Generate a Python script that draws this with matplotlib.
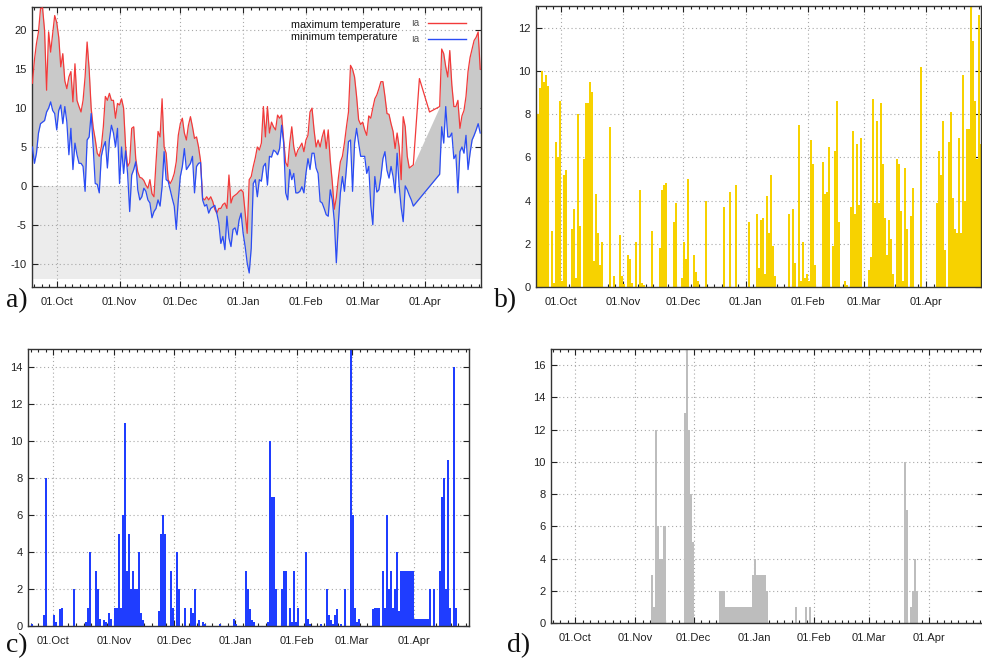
import numpy as np
import pandas as pd
import matplotlib
matplotlib.use('Agg')
import matplotlib.pyplot as plt
import matplotlib.dates as mdates
import matplotlib.ticker as ticker

plt.rcParams['font.family'] = ['Liberation Sans', 'DejaVu Sans']
plt.rcParams['axes.unicode_minus'] = False

nan = np.nan

# daily series, 19 Sep - 28 Apr
days = pd.date_range('2012-09-19', '2013-04-28', freq='D')

# maximum temperature
tmax_sep = [13.2, 16.2, 18.3, 19.8, 22.8, 22.9, 20.0, 12.3, 19.8, 17.2, 19.5, 21.9]
tmax_oct = [21.0, 19.1, 15.3, 17.0, 13.5, 12.5, 14.0, 14.7, 10.8, 15.7, 11.0, 10.2, 9.5, 11.0, 14.0, 18.5,
            15.0, 10.0, 7.5, 6.0, 4.2, 3.8, 5.0, 7.6, 11.5, 11.0, 11.9, 11.0, 11.0, 8.7, 10.6]
tmax_nov = [10.4, 11.2, 10.0, 5.0, 2.5, 3.0, 7.4, 7.6, 3.5, 1.8, 1.1, 1.0, 0.7, 0.1, -0.3, 0.8,
            -1.0, -1.4, 3.0, 7.0, 6.3, 11.2, 5.0, 4.2, 0.8, 0.3, 0.8, 1.6, 3.1, 6.5]
tmax_dec = [8.0, 8.7, 6.8, 5.9, 7.8, 8.9, 7.6, 6.1, 6.3, 5.0, 3.2, -1.6, -1.8, -1.4, -1.8, -1.4,
            -2.0, -3.0, -3.5, -2.9, -2.9, -2.4, -2.2, -2.9, 1.4, -2.2, -1.4, -1.2, -1.0, -0.7, -0.5]
tmax_jan = [-0.8, -3.5, -6.1, 0.8, 1.2, 2.5, 3.6, 5.0, 4.6, 5.5, 10.2, 6.3, 10.2, 6.8, 8.2, 7.6,
            7.2, 9.1, 8.7, 9.1, 5.9, 3.0, 2.5, 5.5, 7.6, 5.0, 3.8, 4.6, 5.0, 5.5, 4.4]
tmax_feb = [5.9, 6.5, 9.5, 10.0, 7.2, 5.0, 5.9, 5.0, 6.3, 7.2, 4.8, 7.2, 3.3, 0.5, -3.0, -1.5,
            1.0, 3.1, 3.8, 5.5, 7.6, 9.5, 15.5, 15.0, 14.0, 11.5, 8.5, 7.9]
tmax_mar = [8.2, 7.2, 6.5, 9.0, 8.7, 10.0, 11.2, 11.7, 12.5, 13.4, 13.4, 11.5, 9.3, 9.2, 8.0, 7.0,
            4.8, 6.8, 5.0, 0.8, 8.9, 7.6, 3.8, 2.3, 2.5, 2.7, nan, nan, 13.8, nan, nan]
tmax_apr = [nan, nan, 9.5, nan, nan, nan, nan, 10.2, 17.6, 17.0, 15.3, 14.0, 17.4, 13.0, 10.2, 10.2,
            11.0, 7.4, 9.0, 9.7, 11.5, 14.7, 16.5, 17.6, 18.7, 19.1, 19.8, 15.0]

# minimum temperature
tmin_sep = [5.0, 2.9, 4.2, 6.8, 8.0, 8.2, 8.4, 9.5, 10.0, 10.8, 9.7, 9.3]
tmin_oct = [7.2, 9.7, 10.4, 8.0, 10.2, 8.2, 4.0, 7.4, 2.1, 5.5, 4.0, 2.9, 2.9, 2.5, -0.7, 5.9,
            6.3, 9.3, 5.0, 0.3, 0.2, -0.9, 3.8, 5.0, 5.7, 2.3, 5.9, 7.8, 6.8, 5.0, 7.4]
tmin_nov = [0.3, 5.0, 1.6, 4.5, 1.5, -3.3, 1.4, 2.1, 3.1, -0.5, -1.8, -1.4, -0.3, -0.7, -1.8, -2.2,
            -4.1, -3.3, -2.9, -1.8, -2.6, -0.1, 4.4, 0.8, 0.6, -0.5, -1.6, -2.6, -5.6, -1.8]
tmin_dec = [1.2, 2.5, 4.8, 2.1, 2.5, 2.9, 3.8, -0.9, 2.5, 2.9, 3.0, -1.8, -2.6, -2.4, -3.5, -2.9,
            -2.7, -2.5, -3.5, -4.8, -7.4, -6.5, -8.2, -3.9, -6.7, -7.8, -5.6, -5.4, -6.3, -4.4, -3.5]
tmin_jan = [-6.1, -7.8, -9.9, -11.2, -8.0, 0.3, 0.8, -1.4, 0.8, 0.6, 2.5, 2.9, 0.1, 3.8, 3.7, 4.6,
            4.4, 4.0, 4.8, 7.8, 5.5, -0.9, -1.8, 2.1, 0.8, 1.6, -0.9, -0.9, -0.7, -0.1, -0.9]
tmin_feb = [1.6, 3.5, 2.1, 4.2, 4.2, 2.3, 1.6, -2.0, -2.2, -2.9, -3.7, -3.9, -0.5, -1.8, -4.5, -9.9,
            -4.8, -0.9, 1.2, -0.7, 2.3, 5.7, 5.9, -0.7, 5.5, 7.4, 5.5, 3.8]
tmin_mar = [3.8, 3.8, 1.6, 2.5, -2.5, -5.0, 1.2, -0.8, -0.5, 1.2, 3.5, 4.4, 2.0, 1.0, 2.5, 1.2,
            -0.9, 4.2, 0.0, -2.8, -4.6, 0.0, -0.5, -1.2, -1.8, -2.6, nan, nan, nan, nan, nan]
tmin_apr = [nan, nan, nan, nan, nan, nan, nan, 1.5, 7.6, 5.5, 10.2, 6.3, 6.3, 6.8, 3.5, 4.0,
            -0.9, 4.4, 5.0, 4.2, 6.5, 2.1, 4.2, 5.9, 6.5, 7.2, 8.0, 6.8]

# panel b (yellow bars)
sun_sep = [8.0, 9.2, 10.0, 9.5, 9.8, 9.3, 0.0, 2.6, 0.2, 6.7, 6.0, 8.6]
sun_oct = [0.3, 5.2, 5.4, 0.0, 0.0, 2.7, 3.6, 0.4, 8.0, 2.8, 0.0, 5.9, 8.5, 8.5, 9.5, 9.0,
           1.2, 4.3, 2.5, 1.0, 2.1, 0.0, 0.0, 0.0, 7.4, 0.0, 0.5, 0.0, 0.0, 2.4, 0.5]
sun_nov = [0.15, 0.0, 1.5, 1.3, 0.2, 0.0, 2.1, 0.0, 4.5, 0.2, 0.1, 0.0, 0.0, 0.0, 2.6, 0.0,
           0.0, 0.0, 1.8, 4.5, 4.7, 4.8, 0.0, 0.0, 0.0, 3.0, 3.9, 0.0, 0.0, 0.4]
sun_dec = [2.1, 1.3, 5.0, 0.0, 0.0, 1.5, 0.7, 0.3, 0.0, 0.0, 0.0, 4.0, 0.0, 0.0, 0.0, 0.0,
           0.0, 0.0, 0.0, 0.0, 3.7, 0.0, 0.0, 4.4, 0.0, 0.0, 4.7, 0.0, 0.0, 0.0, 0.0]
sun_jan = [0.0, 3.0, 0.0, 0.0, 0.0, 3.4, 0.9, 3.1, 3.2, 0.6, 4.2, 2.5, 5.2, 1.9, 0.5, 0.0,
           0.0, 0.0, 0.0, 0.0, 0.0, 3.4, 0.0, 3.6, 1.1, 0.0, 7.5, 0.3, 2.1, 0.4, 0.6]
sun_feb = [0.3, 6.8, 5.7, 1.0, 0.0, 0.0, 0.0, 5.8, 4.3, 4.4, 6.5, 0.0, 1.9, 6.3, 8.6, 3.0,
           0.0, 0.0, 0.3, 0.1, 0.0, 3.7, 7.2, 3.4, 6.6, 3.8, 6.9, 0.0]
sun_mar = [0.0, 0.0, 0.8, 1.4, 8.7, 3.9, 7.7, 3.9, 8.5, 5.7, 3.2, 1.5, 3.1, 2.2, 0.6, 0.0,
           5.9, 5.7, 3.5, 0.3, 5.5, 2.7, 0.0, 3.3, 4.6, 0.0, 0.0, 0.0, 10.2, 0.0, 0.0]
sun_apr = [0.0, 0.0, 0.0, 0.0, 0.0, 3.9, 6.3, 5.2, 7.7, 1.7, 0.0, 6.7, 8.1, 4.1, 2.7, 2.5,
           6.9, 2.5, 9.8, 4.0, 7.3, 7.3, 13.0, 11.4, 8.6, 5.9, 12.6, 6.6]

# panel c (blue bars)
rain_sep = [0.0, 0.1, 0.0, 0.0, 0.0, 0.0, 0.0, 0.6, 8.0, 0.0, 0.0, 0.0]
rain_oct = [0.6, 0.2, 0.0, 0.9, 1.0, 0.0, 0.0, 0.0, 0.0, 0.0, 2.0, 0.0, 0.0, 0.0, 0.0, 0.0,
            0.2, 1.0, 4.0, 0.0, 0.0, 3.0, 2.0, 0.4, 0.0, 0.3, 0.2, 0.0, 0.7, 0.4, 0.0]
rain_nov = [1.0, 1.0, 5.0, 1.0, 6.0, 11.0, 3.0, 5.0, 2.0, 3.0, 2.0, 2.0, 4.0, 0.7, 0.3, 0.0,
            0.0, 0.0, 0.0, 0.0, 0.0, 0.0, 0.8, 5.0, 6.0, 5.0, 0.0, 0.0, 3.0, 1.0]
rain_dec = [0.0, 4.0, 2.0, 0.0, 0.0, 1.0, 0.0, 0.0, 1.0, 0.7, 2.0, 0.0, 0.3, 0.0, 0.2, 0.1,
            0.0, 0.0, 0.0, 0.0, 0.0, 0.0, 0.0, 0.1, 0.0, 0.0, 0.0, 0.0, 0.0, 0.0, 0.4]
rain_jan = [0.1, 0.0, 0.0, 0.0, 0.0, 3.0, 2.0, 0.9, 0.3, 0.2, 0.0, 0.0, 0.0, 0.0, 0.0, 0.0,
            0.2, 10.0, 7.0, 7.0, 2.0, 0.0, 0.0, 2.0, 3.0, 3.0, 0.0, 1.0, 0.2, 3.0, 0.2]
rain_feb = [1.0, 0.0, 0.0, 0.0, 4.0, 0.4, 0.1, 0.0, 0.0, 0.0, 0.0, 0.0, 0.1, 0.0, 0.0, 2.0,
            0.6, 0.3, 0.1, 0.6, 0.9, 0.0, 0.1, 0.0, 2.0, 0.0, 0.0, 15.0]
rain_mar = [6.0, 1.0, 0.2, 0.4, 0.0, 0.0, 0.0, 0.0, 0.0, 0.0, 0.9, 1.0, 1.0, 1.0, 0.0, 3.0,
            1.0, 6.0, 2.0, 3.0, 1.0, 2.0, 4.0, 0.8, 3.0, 3.0, 3.0, 3.0, 3.0, 3.0, 3.0]
rain_apr = [0.4, 0.4, 0.4, 0.4, 0.4, 0.4, 0.4, 0.4, 2.0, 0.0, 2.0, 0.0, 0.0, 3.0, 7.0, 8.0,
            2.0, 9.0, 1.0, 0.0, 14.0, 1.0, 0.0, 0.0, 0.0, 0.0, 0.0, 0.0]

# panel d (gray bars)
snow_sep = [0.0] * 12
snow_oct = [0.0] * 31
snow_nov = [0.0, 0.0, 0.0, 0.0, 0.0, 0.0, 0.0, 0.0, 3.0, 1.0, 12.0, 6.0, 4.0, 4.0, 6.0, 6.0,
            0.0, 0.0, 0.0, 0.0, 0.0, 0.0, 0.0, 0.0, 0.0, 13.0, 17.0, 12.0, 8.0, 5.0]
snow_dec = [0.0, 0.0, 0.0, 0.0, 0.0, 0.0, 0.0, 0.0, 0.0, 0.0, 0.0, 0.0, 0.0, 2.0, 2.0, 2.0,
            1.0, 1.0, 1.0, 1.0, 1.0, 1.0, 1.0, 1.0, 1.0, 1.0, 1.0, 1.0, 1.0, 1.0, 3.0]
snow_jan = [4.0, 3.0, 3.0, 3.0, 3.0, 3.0, 2.0, 0.0, 0.0, 0.0, 0.0, 0.0, 0.0, 0.0, 0.0, 0.0,
            0.0, 0.0, 0.0, 0.0, 0.0, 1.0, 0.0, 0.0, 0.0, 0.0, 1.0, 0.0, 1.0, 0.0, 0.0]
snow_feb = [0.0] * 28
snow_mar = [0.0, 0.0, 0.0, 0.0, 0.0, 0.0, 0.0, 0.0, 0.0, 0.0, 0.0, 0.0, 0.0, 0.0, 0.0, 0.0,
            0.0, 0.0, 10.0, 7.0, 0.0, 1.0, 2.0, 4.0, 2.0, 0.0, 0.0, 0.0, 0.0, 0.0, 0.0]
snow_apr = [0.0] * 28

tmax = np.array(tmax_sep + tmax_oct + tmax_nov + tmax_dec + tmax_jan + tmax_feb + tmax_mar + tmax_apr)
tmin = np.array(tmin_sep + tmin_oct + tmin_nov + tmin_dec + tmin_jan + tmin_feb + tmin_mar + tmin_apr)
sun = np.array(sun_sep + sun_oct + sun_nov + sun_dec + sun_jan + sun_feb + sun_mar + sun_apr)
rain = np.array(rain_sep + rain_oct + rain_nov + rain_dec + rain_jan + rain_feb + rain_mar + rain_apr)
snow = np.array(snow_sep + snow_oct + snow_nov + snow_dec + snow_jan + snow_feb + snow_mar + snow_apr)

legend_labels = ['maximum temperature', 'minimum temperature']

# colours
c_red = '#f23a3a'
c_blue = '#2a4cf5'
c_band = '#c9c9c9'
c_frost = '#ececec'
c_yellow = '#f7d200'
c_barblue = '#1f3dff'
c_gray = '#bdbdbd'
c_grid = '#a8a8a8'

W, H = 982, 660
fig = plt.figure(figsize=(W / 100, H / 100), dpi=100)


def px_axes(l, t, r, b):
    return fig.add_axes([l / W, 1 - b / H, (r - l) / W, (b - t) / H])


# minor ticks: 8 per month, like the gnuplot original
month_starts = pd.date_range('2012-09-01', '2013-05-01', freq='MS')
minor_ticks = []
for m0, m1 in zip(month_starts[:-1], month_starts[1:]):
    minor_ticks += list(pd.date_range(m0, m1, periods=9)[1:-1])
minor_ticks = mdates.date2num(minor_ticks)


def style(ax, d0, d1, ylim, ystep):
    t0 = days[0]
    ax.set_xlim(t0 + pd.Timedelta(days=d0), t0 + pd.Timedelta(days=d1))
    ax.set_ylim(*ylim)
    ax.xaxis.set_major_locator(mdates.MonthLocator(bymonthday=1))
    ax.xaxis.set_major_formatter(mdates.DateFormatter('%d.%b'))
    ax.xaxis.set_minor_locator(ticker.FixedLocator(minor_ticks))
    ax.yaxis.set_major_locator(ticker.MultipleLocator(ystep))
    ax.tick_params(which='both', direction='in', top=True, right=True, colors='#222222',
                   labelsize=8, width=0.8)
    ax.tick_params(which='major', length=4)
    ax.tick_params(which='minor', length=2.2)
    ax.tick_params(axis='x', pad=7)
    ax.tick_params(axis='y', pad=4)
    ax.grid(True, which='major', color=c_grid, linestyle=(0, (1, 2.5)), linewidth=0.8)
    ax.set_axisbelow(True)
    for s in ax.spines.values():
        s.set_color('#333333')
        s.set_linewidth(1.0)


# a) temperatures
ax = px_axes(32, 7, 481, 287)
ax.axhspan(-12, 0, color=c_frost, lw=0, zorder=0.5)
both = ~np.isnan(tmax) & ~np.isnan(tmin)
ax.fill_between(days[both], tmin[both], tmax[both], color=c_band, lw=0, zorder=1)
ok_max = ~np.isnan(tmax)
ok_min = ~np.isnan(tmin)
ax.plot(days[ok_max], tmax[ok_max], color=c_red, lw=0.9, zorder=3)
ax.plot(days[ok_min], tmin[ok_min], color=c_blue, lw=0.9, zorder=3)
style(ax, -0.2, 221.4, (-13, 23), 5)

# key, drawn like gnuplot: left-justified text, sample line on the right
for lbl, col, ty, ly in [(legend_labels[0], c_red, 0.936, 0.942),
                         (legend_labels[1], c_blue, 0.892, 0.885)]:
    ax.text(0.576, ty, lbl, transform=ax.transAxes, fontsize=7.8, va='center', ha='left',
            color='#111111')
    ax.text(0.845, ly, 'ıa', transform=ax.transAxes, fontsize=7, color='#555555', va='center')
    ax.plot([0.881, 0.967], [ly, ly], transform=ax.transAxes, color=col, lw=1.0, zorder=4)

# b) yellow bars
ax = px_axes(536, 6, 981, 287)
ax.bar(days, sun, width=1.0, align='edge', color=c_yellow, lw=0, zorder=2)
style(ax, -0.46, 221.4, (0, 13), 2)

# c) blue bars
ax = px_axes(28, 349, 469, 626)
ax.bar(days, rain, width=1.0, align='edge', color=c_barblue, lw=0, zorder=2)
style(ax, -0.64, 222.0, (0, 15), 2)

# d) gray bars
ax = px_axes(551, 349, 983, 623)
ax.bar(days, snow, width=1.0, align='edge', color=c_gray, lw=0, zorder=2)
style(ax, -0.33, 221.6, (0, 17), 2)

# panel letters
for lbl, x, y in [('a)', 6, 301), ('b)', 494, 301), ('c)', 6, 646), ('d)', 507, 646)]:
    fig.text(x / W, 1 - y / H, lbl, family='Liberation Serif', fontsize=20,
             va='center', ha='left', color='#111111')

fig.savefig('out.png', dpi=100)
